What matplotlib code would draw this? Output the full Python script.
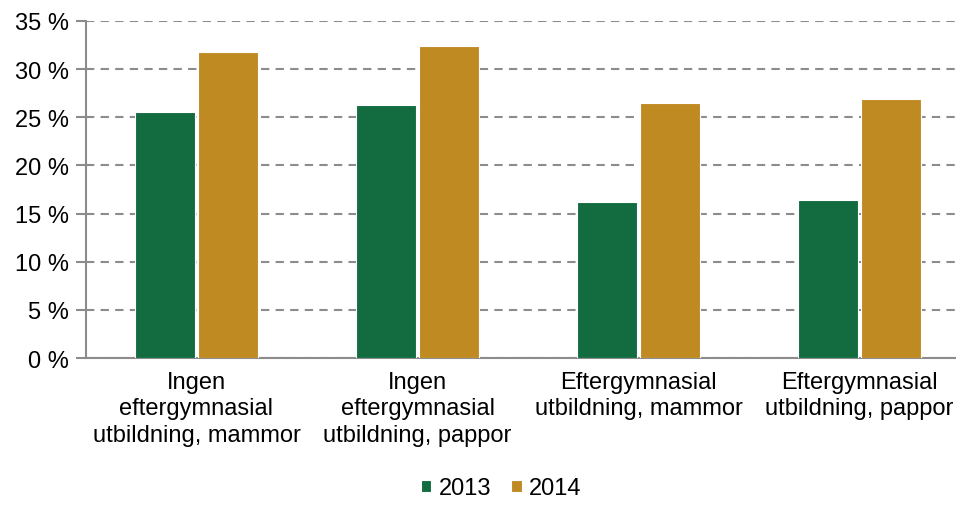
import numpy as np
import matplotlib.pyplot as plt
from matplotlib.ticker import FuncFormatter

plt.rcParams['font.family'] = ['Liberation Sans', 'DejaVu Sans']

categories = ['Ingen\neftergymnasial\nutbildning, mammor',
              'Ingen\neftergymnasial\nutbildning, pappor',
              'Eftergymnasial\nutbildning, mammor',
              'Eftergymnasial\nutbildning, pappor']
v2013 = [25.5, 26.3, 16.2, 16.4]
v2014 = [31.8, 32.4, 26.5, 26.9]

green = '#136b40'
gold = '#c08a23'
grey = '#8c8c8c'

fig = plt.figure(figsize=(9.56, 5.06), dpi=100)
# axes runs a bit past the right edge, like the original
ax = fig.add_axes([86 / 956, 1 - 359 / 506, 884 / 956, 337 / 506])

x = np.arange(len(categories))
w = 0.272
ax.bar(x - w / 2 - 0.007, v2013, w, color=green, edgecolor='white', linewidth=0.8, label='2013', zorder=3)
ax.bar(x + w / 2 + 0.007, v2014, w, color=gold, edgecolor='white', linewidth=0.8, label='2014', zorder=3)

ax.set_xlim(-0.5, 3.5)
ax.set_ylim(0, 35)
ax.set_yticks(range(0, 36, 5))
ax.yaxis.set_major_formatter(FuncFormatter(lambda v, p: f'{int(v)} %'))
ax.set_xticks(x)
ax.set_xticklabels(categories, fontsize=17, linespacing=1.27)
ax.tick_params(axis='y', labelsize=17, length=7, width=1.5, color=grey, pad=5)
ax.tick_params(axis='x', length=0, pad=9)

ax.grid(axis='y', color=grey, linestyle=(0, (4, 3)), linewidth=1.5, zorder=0)
for s in ['top', 'right']:
    ax.spines[s].set_visible(False)
for s in ['left', 'bottom']:
    ax.spines[s].set_color(grey)
    ax.spines[s].set_linewidth(1.5)

ax.legend(loc='lower center', bbox_to_anchor=(501 / 956, -0.012), bbox_transform=fig.transFigure,
          ncol=2, frameon=False, fontsize=17, handlelength=0.45, handleheight=0.45,
          handletextpad=0.3, columnspacing=0.85, borderaxespad=0.1)

fig.savefig('out.png', dpi=100)
